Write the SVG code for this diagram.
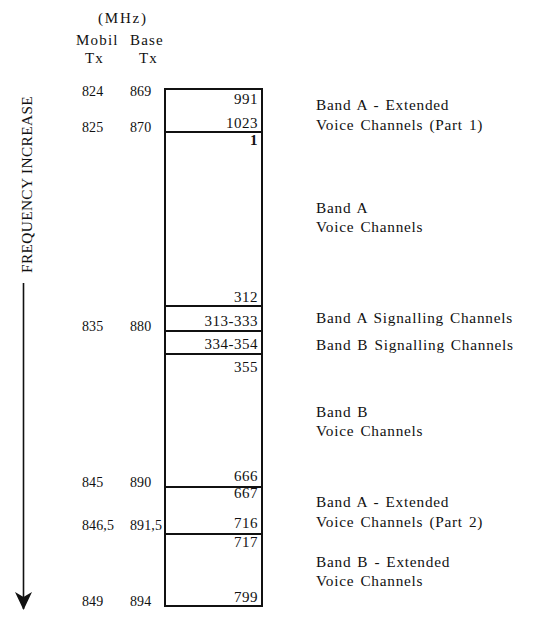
<svg xmlns="http://www.w3.org/2000/svg" width="533" height="617" viewBox="0 0 533 617">
<style>
text{font-family:"Liberation Serif","Times New Roman",serif;fill:#111}
.hd{font-size:15px;letter-spacing:1.2px}
.fq{font-size:14px;letter-spacing:0.1px}
.ch{font-size:15px;letter-spacing:0.5px;text-anchor:end}
.lb{font-size:15.3px;letter-spacing:0.75px;word-spacing:1.5px}
.seg{fill:none;stroke:#111;stroke-width:2}
.ax{stroke:#111;stroke-width:1.6;fill:none}
</style>
<defs>
<marker id="ah" markerWidth="18" markerHeight="17" refX="17" refY="8.5" orient="auto" markerUnits="userSpaceOnUse" viewBox="0 0 18 17">
<path d="M0,0 L18,8.5 L0,17 L5,8.5 Z" fill="#111"/>
</marker>
</defs>
<g id="header">
<text class="hd" x="98" y="23" style="letter-spacing:1.8px">(MHz)</text>
<text class="hd" x="76" y="45">Mobil</text>
<text class="hd" x="130" y="45">Base</text>
<text class="hd" x="85" y="63">Tx</text>
<text class="hd" x="139" y="63">Tx</text>
</g>
<g id="freq-axis">
<text class="lb" transform="translate(32,273) rotate(-90)" style="letter-spacing:0.4px;word-spacing:0">FREQUENCY INCREASE</text>
</g>
<g id="connectors">
<line class="ax" x1="23.5" y1="283" x2="23.5" y2="609" marker-end="url(#ah)"/>
</g>
<g id="frequencies">
<text class="fq" x="82" y="96">824</text><text class="fq" x="130" y="96">869</text>
<text class="fq" x="82" y="132">825</text><text class="fq" x="130" y="132">870</text>
<text class="fq" x="82" y="331">835</text><text class="fq" x="130" y="331">880</text>
<text class="fq" x="82" y="487">845</text><text class="fq" x="130" y="487">890</text>
<text class="fq" x="82" y="530">846,5</text><text class="fq" x="130" y="530">891,5</text>
<text class="fq" x="82" y="606">849</text><text class="fq" x="130" y="606">894</text>
</g>
<g id="band-a-ext-1">
<rect class="seg" x="165" y="89" width="97" height="43"/>
<text class="ch" x="258" y="104">991</text>
<text class="ch" x="258" y="128">1023</text>
<text class="lb" x="316" y="110">Band A - Extended</text>
<text class="lb" x="316" y="130">Voice Channels (Part 1)</text>
</g>
<g id="band-a-voice">
<rect class="seg" x="165" y="132" width="97" height="174"/>
<text class="ch" x="258" y="145" style="font-weight:bold">1</text>
<text class="ch" x="258" y="302">312</text>
<text class="lb" x="316" y="213">Band A</text>
<text class="lb" x="316" y="232">Voice Channels</text>
</g>
<g id="band-a-signal">
<rect class="seg" x="165" y="306" width="97" height="25"/>
<text class="ch" x="258" y="326">313-333</text>
<text class="lb" x="316" y="323">Band A Signalling Channels</text>
</g>
<g id="band-b-signal">
<rect class="seg" x="165" y="331" width="97" height="23"/>
<text class="ch" x="258" y="349">334-354</text>
<text class="lb" x="316" y="350">Band B Signalling Channels</text>
</g>
<g id="band-b-voice">
<rect class="seg" x="165" y="354" width="97" height="133"/>
<text class="ch" x="258" y="372">355</text>
<text class="ch" x="258" y="481">666</text>
<text class="lb" x="316" y="417">Band B</text>
<text class="lb" x="316" y="436">Voice Channels</text>
</g>
<g id="band-a-ext-2">
<rect class="seg" x="165" y="487" width="97" height="47"/>
<text class="ch" x="258" y="498">667</text>
<text class="ch" x="258" y="528">716</text>
<text class="lb" x="316" y="507">Band A - Extended</text>
<text class="lb" x="316" y="527">Voice Channels (Part 2)</text>
</g>
<g id="band-b-ext">
<rect class="seg" x="165" y="534" width="97" height="72"/>
<text class="ch" x="258" y="547">717</text>
<text class="ch" x="258" y="602">799</text>
<text class="lb" x="316" y="567">Band B - Extended</text>
<text class="lb" x="316" y="586">Voice Channels</text>
</g>
</svg>
